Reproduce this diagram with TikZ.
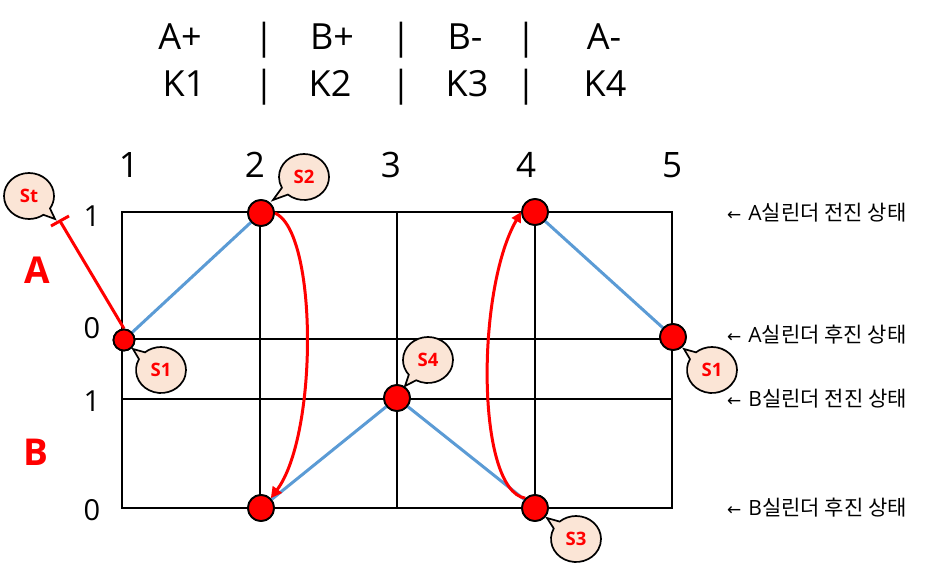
\documentclass[tikz,border=0pt]{standalone}
\usepackage{fontspec}
\setmainfont{Open Sans}
\newfontfamily\krfont{Noto Sans CJK KR}
\newfontfamily\symfont{DejaVu Sans}
\usetikzlibrary{shapes.callouts,arrows.meta}
\definecolor{blueline}{RGB}{91,155,213}
\definecolor{calloutfill}{RGB}{251,229,214}
\tikzset{
  gridline/.style={line width=2.8pt,black},
  blueedge/.style={line width=3pt,blueline,shorten <=-1pt,shorten >=-1pt},
  rededge/.style={line width=3pt,red},
  dot/.style={circle,draw=black,line width=1.8pt,fill=red,minimum size=26pt,inner sep=0pt},
  smalldot/.style={dot,minimum size=21pt},
  bubble/.style={ellipse callout,draw=black,line width=1.7pt,fill=calloutfill,minimum width=50pt,minimum height=46pt,inner sep=0pt,text=red,font=\fontsize{18.5}{18.5}\selectfont\bfseries,callout pointer arc=22},
  toptext/.style={font=\fontsize{36}{36}\selectfont,text=black,inner sep=0pt,anchor=base},
  axis/.style={font=\fontsize{35}{35}\selectfont,text=black,inner sep=0pt,anchor=base},
  rowaxis/.style={font=\fontsize{29}{29}\selectfont,text=black,inner sep=0pt,anchor=base},
  biglabel/.style={font=\fontsize{37}{37}\selectfont\bfseries,text=red,inner sep=0pt,anchor=base},
  note/.style={font=\fontsize{21}{21}\selectfont,text=black,inner sep=0pt,anchor=base west},
}
\newcommand{\kr}[1]{{\krfont #1}}
\newcommand{\arr}{{\symfont\fontsize{17}{17}\selectfont ←}}
\begin{document}
\begin{tikzpicture}[x=1pt,y=-1pt]
\useasboundingbox (0,0) rectangle (936,564);
% top table
\node[toptext] (ta) at (180,50) {A+};
\node[toptext] (tb) at (332,50) {B+};
\node[toptext] (tc) at (465,50) {B-};
\node[toptext] (td) at (604,50) {A-};
\node[toptext] (ka) at (184,97) {K1};
\node[toptext] (kb) at (330,97) {K2};
\node[toptext] (kc) at (467,97) {K3};
\node[toptext] (kd) at (605,97) {K4};
\node[toptext] (s1) at (264,50) {|};
\node[toptext] (s2) at (401,50) {|};
\node[toptext] (s3) at (526,50) {|};
\node[toptext] (s4) at (264,97) {|};
\node[toptext] (s5) at (401,97) {|};
\node[toptext] (s6) at (526,97) {|};
% axes
\node[axis] (c1) at (129,178) {1};
\node[axis] (c2) at (255,178) {2};
\node[axis] (c3) at (391,178) {3};
\node[axis] (c4) at (526,178) {4};
\node[axis] (c5) at (672,178) {5};
\node[rowaxis] (r1) at (92,226) {1};
\node[rowaxis] (r2) at (92,338) {0};
\node[rowaxis] (r3) at (92,411) {1};
\node[rowaxis] (r4) at (92,520) {0};
\node[biglabel] (la) at (37,283) {A};
\node[biglabel] (lb) at (36,465) {B};
% grid
\draw[gridline] (122,212) rectangle (672,508);
\draw[gridline] (122,339) -- (672,339);
\draw[gridline] (122,399) -- (672,399);
\draw[gridline] (260,212) -- (260,508);
\draw[gridline] (397,212) -- (397,508);
\draw[gridline] (535,212) -- (535,508);
% state dots
\node[smalldot] (n1) at (124,340) {};
\node[dot] (n2) at (261,213) {};
\node[dot] (n3) at (261,508) {};
\node[dot] (n4) at (397,398) {};
\node[dot] (n5) at (535,508) {};
\node[dot] (n6) at (535,212) {};
\node[dot] (n7) at (673,337) {};
% edges
\draw[blueedge] (n1) -- (n2);
\draw[blueedge] (n3) -- (n4);
\draw[blueedge] (n4) -- (n5);
\draw[blueedge] (n6) -- (n7);
\coordinate (tickc) at (60,221);
\coordinate (ticka) at (51,226);
\coordinate (tickb) at (69,216);
\draw[rededge] (tickc) -- (n1.north);
\draw[rededge] (ticka) -- (tickb);
\draw[rededge,-{Triangle[length=11pt,width=11pt]}] (n2.east) .. controls (318,232) and (318,435) .. (n3.45);
\draw[rededge,-{Triangle[length=10pt,width=10pt]}] (n5.135) .. controls (476,490) and (476,290) .. (n6.west);
% redraw dots above lines
\node[smalldot] at (n1) {};
\node[dot] at (n2) {};
\node[dot] at (n3) {};
\node[dot] at (n4) {};
\node[dot] at (n5) {};
\node[dot] at (n6) {};
\node[dot] at (n7) {};
% callouts
\coordinate (pst) at (55,219);
\coordinate (ps2) at (273,200);
\coordinate (ps1) at (133,349);
\coordinate (ps1b) at (684,349);
\coordinate (ps4) at (405,386);
\coordinate (ps3) at (547,518);
\node[bubble,callout absolute pointer={(pst)}] (bst) at (29,196) {St};
\node[bubble,callout absolute pointer={(ps2)}] (bs2) at (304,177) {S2};
\node[bubble,callout absolute pointer={(ps1)}] (bs1) at (161,370) {S1};
\node[bubble,callout absolute pointer={(ps1b)}] (bs1b) at (712,370) {S1};
\node[bubble,callout absolute pointer={(ps4)}] (bs4) at (428,360) {S4};
\node[bubble,callout absolute pointer={(ps3)}] (bs3) at (576,539) {S3};
% notes
\node[note] (na) at (727,220) {\arr\,\,A\kr{실린더 전진 상태}};
\node[note] (nb) at (727,342) {\arr\,\,A\kr{실린더 후진 상태}};
\node[note] (nc) at (727,406) {\arr\,\,B\kr{실린더 전진 상태}};
\node[note] (nd) at (727,515) {\arr\,\,B\kr{실린더 후진 상태}};
\end{tikzpicture}
\end{document}
